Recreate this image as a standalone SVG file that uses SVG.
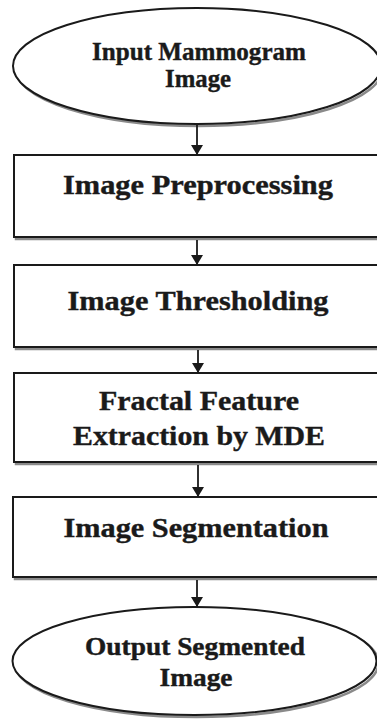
<svg xmlns="http://www.w3.org/2000/svg" width="377" height="721" viewBox="0 0 377 721">
  <defs>
    <style>
      .shape { fill: #ffffff; stroke: #1a1a1a; stroke-width: 2; }
      .shadow { fill: none; stroke: #8a8a8a; stroke-width: 2.5; }
      .label { font-family: 'Liberation Serif', serif; font-weight: 700; fill: #1a1a1a; stroke: #1a1a1a; stroke-width: 0.4; text-anchor: middle; }
      .box-label { font-size: 28px; }
      .oval-label { font-size: 25px; }
      .edge { stroke: #1a1a1a; stroke-width: 1.8; fill: none; marker-end: url(#arrow); }
    </style>
    <marker id="arrow" viewBox="0 0 10 12" refX="10" refY="6" markerWidth="10" markerHeight="12" markerUnits="userSpaceOnUse" orient="auto">
      <path d="M0,0 L10,6 L0,12 Z" fill="#1a1a1a"/>
    </marker>
  </defs>
  <rect width="377" height="721" fill="#ffffff"/>

  <g id="input">
    <ellipse class="shadow" cx="199" cy="68" rx="184" ry="58"/>
    <ellipse class="shape" cx="197" cy="66" rx="184" ry="58"/>
    <text class="label oval-label" x="199" y="60" textLength="214" lengthAdjust="spacingAndGlyphs">Input Mammogram</text>
    <text class="label oval-label" x="198" y="87" textLength="66" lengthAdjust="spacingAndGlyphs">Image</text>
  </g>

  <g id="preprocessing">
    <rect class="shadow" x="16" y="157" width="380" height="82"/>
    <rect class="shape" x="14" y="155" width="380" height="82"/>
    <text class="label box-label" x="198" y="194" textLength="270" lengthAdjust="spacingAndGlyphs">Image Preprocessing</text>
  </g>

  <g id="thresholding">
    <rect class="shadow" x="16" y="267" width="380" height="82"/>
    <rect class="shape" x="14" y="265" width="380" height="82"/>
    <text class="label box-label" x="198" y="310" textLength="261" lengthAdjust="spacingAndGlyphs">Image Thresholding</text>
  </g>

  <g id="feature-extraction">
    <rect class="shadow" x="16" y="375" width="380" height="89"/>
    <rect class="shape" x="14" y="373" width="380" height="89"/>
    <text class="label box-label" x="199" y="410" textLength="200" lengthAdjust="spacingAndGlyphs">Fractal Feature</text>
    <text class="label box-label" x="199" y="445" textLength="252" lengthAdjust="spacingAndGlyphs">Extraction by MDE</text>
  </g>

  <g id="segmentation">
    <rect class="shadow" x="15" y="499" width="380" height="80"/>
    <rect class="shape" x="13" y="497" width="380" height="80"/>
    <text class="label box-label" x="196" y="537" textLength="265" lengthAdjust="spacingAndGlyphs">Image Segmentation</text>
  </g>

  <g id="output">
    <ellipse class="shadow" cx="196.5" cy="663" rx="182" ry="54"/>
    <ellipse class="shape" cx="194.5" cy="661" rx="182" ry="54"/>
    <text class="label oval-label" x="195" y="655" textLength="220" lengthAdjust="spacingAndGlyphs">Output Segmented</text>
    <text class="label oval-label" x="196" y="686" textLength="73" lengthAdjust="spacingAndGlyphs">Image</text>
  </g>

  <g id="connectors">
    <line class="edge" x1="197" y1="125" x2="197" y2="155"/>
    <line class="edge" x1="197" y1="240" x2="197" y2="265"/>
    <line class="edge" x1="198" y1="350" x2="198" y2="373"/>
    <line class="edge" x1="198" y1="465" x2="198" y2="497"/>
    <line class="edge" x1="197" y1="580" x2="197" y2="607"/>
  </g>
</svg>
